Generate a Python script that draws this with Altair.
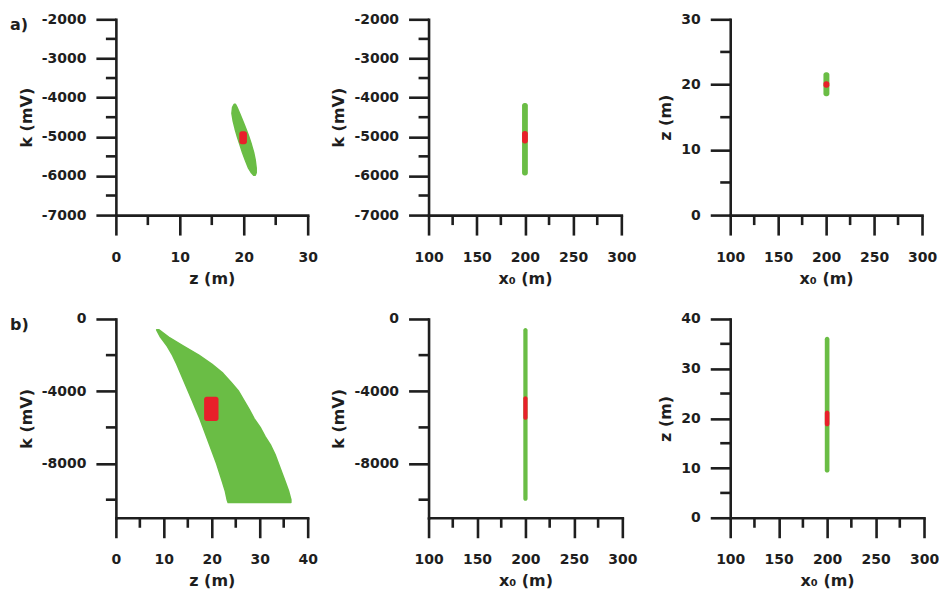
import altair as alt
import pandas as pd

GREEN = "#6abd45"
RED = "#e8202a"
AX = "#1e1e1e"
FONT = "DejaVu Sans"

# ---------------- data ----------------
# a) z-k cross plot: green ellipse outline (k level, left z, right z)
a1_k = [-4170, -4250, -4400, -4600, -4800, -5000, -5200, -5400, -5600, -5800, -5920, -5980]
a1_zl = [18.5, 18.25, 18.15, 18.35, 18.65, 19.0, 19.4, 19.8, 20.25, 20.75, 21.2, 21.55]
a1_zr = [18.7, 18.95, 19.35, 19.85, 20.35, 20.8, 21.2, 21.55, 21.8, 21.95, 21.95, 21.8]
a1_red_z = [19.3, 20.5]
a1_red_k = [-4860, -5190]

# a) x0-k
a2_x0 = [197.0, 203.0]
a2_green_k = [-4140, -5990]
a2_red_k = [-4850, -5170]

# a) x0-z
a3_x0 = [197.2, 203.4]
a3_green_z = [18.2, 21.9]
a3_red_z = [19.5, 20.5]

# b) z-k cross plot: green region outline
b1_k = [-600, -1000, -1500, -2000, -2500, -3000, -3500, -4000, -4500, -5000, -5500,
        -6000, -6500, -7000, -7500, -8000, -8500, -9000, -9500, -10000, -10150]
b1_zl = [8.5, 9.3, 10.7, 11.8, 12.7, 13.5, 14.3, 15.1, 15.9, 16.7, 17.5,
         18.2, 18.9, 19.6, 20.3, 21.0, 21.6, 22.2, 22.8, 23.2, 23.4]
b1_zr = [9.0, 11.0, 14.1, 17.3, 20.0, 22.3, 24.0, 25.6, 26.7, 27.8, 28.8,
         30.1, 31.1, 32.3, 33.2, 33.9, 34.6, 35.3, 36.0, 36.5, 36.5]
b1_red_z = [18.4, 21.4]
b1_red_k = [-4300, -5650]

# b) x0-k
b2_x0 = [197.8, 202.2]
b2_green_k = [-500, -10060]
b2_red_k = [-4280, -5580]

# b) x0-z
b3_x0 = [197.6, 202.4]
b3_green_z = [9.1, 36.4]
b3_red_z = [18.4, 21.6]

# axes: domains, major (labelled) and minor tick values
k_a_dom = [-7000, -2000]
k_a_major = [-7000, -6000, -5000, -4000, -3000, -2000]
k_a_minor = [-6500, -5500, -4500, -3500, -2500]
z_a_dom = [0, 30]
z_a_major = [0, 10, 20, 30]
z_a_minor = [5, 15, 25]
x0_dom = [100, 300]
x0_major = [100, 150, 200, 250, 300]
x0_minor = [125, 175, 225, 275]
k_b_dom = [-11000, 0]
k_b_major = [-8000, -4000, 0]
k_b_minor = [-10000, -6000, -2000]
z_b_dom = [0, 40]
z_b_major = [0, 10, 20, 30, 40]
z_b_minor = [5, 15, 25, 35]

panel_labels = ["a)", "b)"]

K_TITLE = "k (mV)"
Z_TITLE = "z (m)"
X0_TITLE = "x\u2080 (m)"

MAJOR = 20
MINOR = 10
LW = 2.6


def make_axis(values, title, is_x):
    return alt.Axis(
        values=values, title=title, grid=False,
        tickSize=MAJOR, tickWidth=LW, tickColor=AX,
        domainWidth=LW, domainColor=AX, domainCap="square",
        labelFont=FONT, labelFontSize=14, labelFontWeight="bold", labelColor=AX,
        labelPadding=15 if is_x else 10, labelFlush=False, labelOverlap=False,
        labelExpr="datum.value + ''",
        titleFont=FONT, titleFontSize=16, titleFontWeight="bold", titleColor=AX,
        titlePadding=6 if is_x else 7,
    )


def panel(xdom, xmaj, xmin, xtitle, ydom, ymaj, ymin, ytitle, rng_w, view_w, view_h,
          shapes, label=None):
    xs = alt.Scale(domain=xdom, range=[0, rng_w], nice=False, zero=False)
    ys = alt.Scale(domain=ydom, nice=False, zero=False)
    xa = make_axis(xmaj, xtitle, True)
    ya = make_axis(ymaj, ytitle, False)
    layers = []
    for kind, df, color in shapes:
        if kind == "area":
            layers.append(
                alt.Chart(df).mark_area(orient="horizontal", color=color, opacity=1,
                                        stroke=color, strokeWidth=1.5, strokeJoin="round")
                .encode(y=alt.Y("y:Q", scale=ys, axis=ya),
                        x=alt.X("x:Q", scale=xs, axis=xa),
                        x2="x2:Q")
            )
        else:
            layers.append(
                alt.Chart(df).mark_rect(color=color, cornerRadius=2.5)
                .encode(x=alt.X("x:Q", scale=xs, axis=xa), x2="x2:Q",
                        y=alt.Y("y:Q", scale=ys, axis=ya), y2="y2:Q")
            )
    # minor ticks
    layers.append(
        alt.Chart(pd.DataFrame({"x": xmin})).mark_rule(color=AX, strokeWidth=LW)
        .encode(x=alt.X("x:Q", scale=xs, axis=xa),
                y=alt.value(view_h), y2=alt.value(view_h + MINOR))
    )
    layers.append(
        alt.Chart(pd.DataFrame({"y": ymin})).mark_rule(color=AX, strokeWidth=LW)
        .encode(y=alt.Y("y:Q", scale=ys, axis=ya),
                x=alt.value(0), x2=alt.value(-MINOR))
    )
    if label is not None:
        layers.append(
            alt.Chart(pd.DataFrame({"t": [label]})).mark_text(
                font=FONT, fontSize=16, fontWeight="bold", color=AX,
                align="left", baseline="middle")
            .encode(text="t:N", x=alt.value(-106), y=alt.value(6))
        )
    return alt.layer(*layers).properties(width=view_w, height=view_h)


def rect_df(xr, yr):
    return pd.DataFrame({"x": [xr[0]], "x2": [xr[1]], "y": [yr[0]], "y2": [yr[1]]})


a1 = panel(z_a_dom, z_a_major, z_a_minor, Z_TITLE, k_a_dom, k_a_major, k_a_minor, K_TITLE,
           192, 213, 196,
           [("area", pd.DataFrame({"y": a1_k, "x": a1_zl, "x2": a1_zr}), GREEN),
            ("rect", rect_df(a1_red_z, a1_red_k), RED)], label=panel_labels[0])
a2 = panel(x0_dom, x0_major, x0_minor, X0_TITLE, k_a_dom, k_a_major, k_a_minor, K_TITLE,
           193, 202, 196,
           [("rect", rect_df(a2_x0, a2_green_k), GREEN),
            ("rect", rect_df(a2_x0, a2_red_k), RED)])
a3 = panel(x0_dom, x0_major, x0_minor, X0_TITLE, z_a_dom, z_a_major, z_a_minor, Z_TITLE,
           192, 194, 196,
           [("rect", rect_df(a3_x0, a3_green_z), GREEN),
            ("rect", rect_df(a3_x0, a3_red_z), RED)])

b1 = panel(z_b_dom, z_b_major, z_b_minor, Z_TITLE, k_b_dom, k_b_major, k_b_minor, K_TITLE,
           192, 213, 199,
           [("area", pd.DataFrame({"y": b1_k, "x": b1_zl, "x2": b1_zr}), GREEN),
            ("rect", rect_df(b1_red_z, b1_red_k), RED)], label=panel_labels[1])
b2 = panel(x0_dom, x0_major, x0_minor, X0_TITLE, k_b_dom, k_b_major, k_b_minor, K_TITLE,
           194, 202, 199,
           [("rect", rect_df(b2_x0, b2_green_k), GREEN),
            ("rect", rect_df(b2_x0, b2_red_k), RED)])
b3 = panel(x0_dom, x0_major, x0_minor, X0_TITLE, z_b_dom, z_b_major, z_b_minor, Z_TITLE,
           194, 194, 199,
           [("rect", rect_df(b3_x0, b3_green_z), GREEN),
            ("rect", rect_df(b3_x0, b3_red_z), RED)])

chart = (
    alt.concat(a1, a2, a3, b1, b2, b3, columns=3,
               spacing={"row": 104, "column": 100}, bounds="flush")
    .properties(padding={"left": 2, "top": 4, "right": 0, "bottom": 0},
                background="white")
    .configure_view(stroke="transparent", strokeWidth=0)
)

chart.save("out.html", embed_options={"renderer": "svg", "actions": False})
